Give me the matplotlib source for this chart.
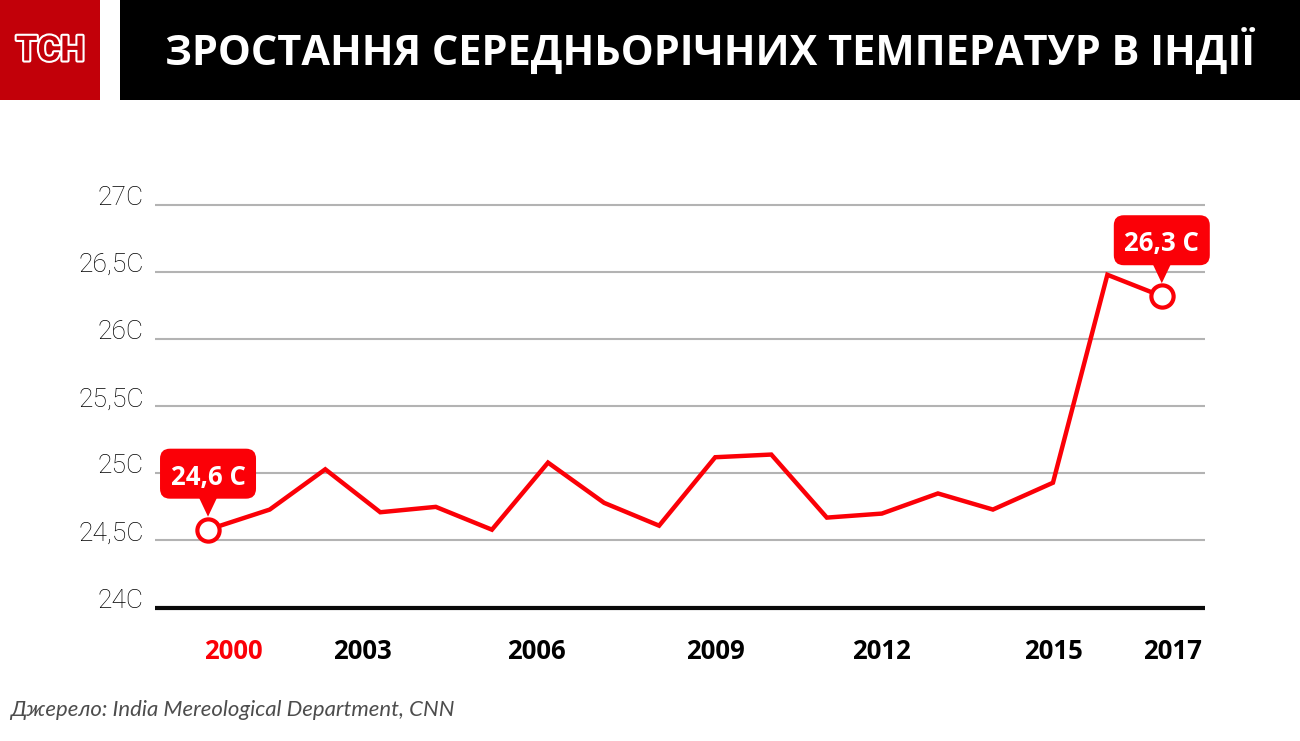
"""Зростання середньорічних температур в Індії - TSN infographic."""

import matplotlib
matplotlib.use('Agg')
import matplotlib.pyplot as plt
import matplotlib.patheffects as pe
from matplotlib.patches import FancyBboxPatch, Polygon, Rectangle
from matplotlib.transforms import IdentityTransform, ScaledTranslation

W, H = 1300, 741
RED = '#fb0007'

# years: the original spaces its points slightly unevenly
years = [2000.0, 2001.1, 2002.09, 2003.07, 2004.06, 2005.06, 2006.06, 2007.06, 2008.04,
         2009.04, 2010.04, 2011.03, 2012.01, 2013.01, 2013.99, 2015.06, 2016.03, 2017.0]
temps = [24.58, 24.73, 25.03, 24.71, 24.75, 24.58, 25.08, 24.78, 24.61,
         25.12, 25.14, 24.67, 24.70, 24.85, 24.73, 24.93, 26.48, 26.32]

y_ticks = [24, 24.5, 25, 25.5, 26, 26.5, 27]
y_labels = ['24C', '24,5C', '25C', '25,5C', '26C', '26,5C', '27C']

# the year labels do not sit under their points in the original
x_labels = ['2000', '2003', '2006', '2009', '2012', '2015', '2017']
x_label_pos = [2000.46, 2002.76, 2005.85, 2009.05, 2012.0, 2015.07, 2017.2]

title = 'ЗРОСТАННЯ СЕРЕДНЬОРІЧНИХ ТЕМПЕРАТУР В ІНДІЇ'
source = 'Джерело: India Mereological Department, CNN'


def px_box(x0, y0, x1, y1):
    """Figure fraction rectangle from image pixels (y down)."""
    return [x0 / W, 1 - y1 / H, (x1 - x0) / W, (y1 - y0) / H]


fig = plt.figure(figsize=(W / 100, H / 100), dpi=100, facecolor='white')

# header
fig.add_artist(Rectangle((0, 1 - 100 / H), 100 / W, 100 / H, color='#c20009',
                         transform=fig.transFigure, lw=0))
fig.add_artist(Rectangle((120 / W, 1 - 100 / H), 1180 / W, 100 / H, color='black',
                         transform=fig.transFigure, lw=0))
fig.text(50.5 / W, 1 - 51 / H, 'ТСН', color='#c20009', fontsize=25, family='Roboto',
         weight='bold', ha='center', va='center',
         path_effects=[pe.withStroke(linewidth=3, foreground='white')])
fig.text(710 / W, 1 - 52 / H, title, color='white', fontsize=29.9, family='Open Sans',
         weight='bold', ha='center', va='center')

# chart
ax = fig.add_axes(px_box(155, 205, 1205, 607.5))
ax.set_xlim(1999.055, 2017.77)
ax.set_ylim(24, 27)
ax.patch.set_alpha(0)
for s in ax.spines.values():
    s.set_visible(False)

ax.set_yticks(y_ticks)
ax.set_yticklabels(y_labels, fontsize=19, family='Roboto', weight='light', color='black')
ax.tick_params(axis='y', length=0, pad=8)
for lab in ax.get_yticklabels():
    lab.set_verticalalignment('baseline')
ax.set_xticks([])
for t in y_ticks[1:]:
    ax.axhline(t, color='#b3b3b3', lw=1.5, zorder=1, clip_on=False, solid_capstyle='butt')
ax.axhline(24, color='#0a0a0a', lw=3, zorder=2, clip_on=False, solid_capstyle='butt')

ax.plot(years, temps, color=RED, lw=3.2, solid_joinstyle='miter', zorder=3, clip_on=False)
ax.plot([years[0], years[-1]], [temps[0], temps[-1]], 'o', ms=16, mfc='white', mec=RED,
        mew=3, zorder=4, clip_on=False)

for pos, lab in zip(x_label_pos, x_labels):
    ax.text(pos, -0.109, lab, transform=ax.get_xaxis_transform(),
            ha='center', va='center', fontsize=18.5, family='Open Sans', weight='bold',
            color=RED if lab == '2000' else 'black')


def callout(year, val, label):
    # box and pointer are drawn in pixels relative to the data point
    tr = IdentityTransform() + ScaledTranslation(year, val, ax.transData)
    ax.add_patch(FancyBboxPatch((-41, 38), 82, 36, boxstyle='round,pad=7,rounding_size=10',
                                fc=RED, ec='none', transform=tr, zorder=5, clip_on=False))
    ax.add_patch(Polygon([(-9, 32), (9, 32), (0, 13)], closed=True, fc=RED, ec='none',
                         transform=tr, zorder=5, clip_on=False))
    ax.text(0, 52.5, label, transform=tr, color='white', fontsize=18.5, family='Open Sans',
            weight='bold', ha='center', va='center', zorder=6)


callout(years[0], temps[0], '24,6 C')
callout(years[-1], temps[-1], '26,3 C')

fig.text(10 / W, 1 - 710 / H, source, color='#4d4d4d', fontsize=15.9, family='Lato',
         style='italic', ha='left', va='center')

fig.savefig('out.png', dpi=100)
